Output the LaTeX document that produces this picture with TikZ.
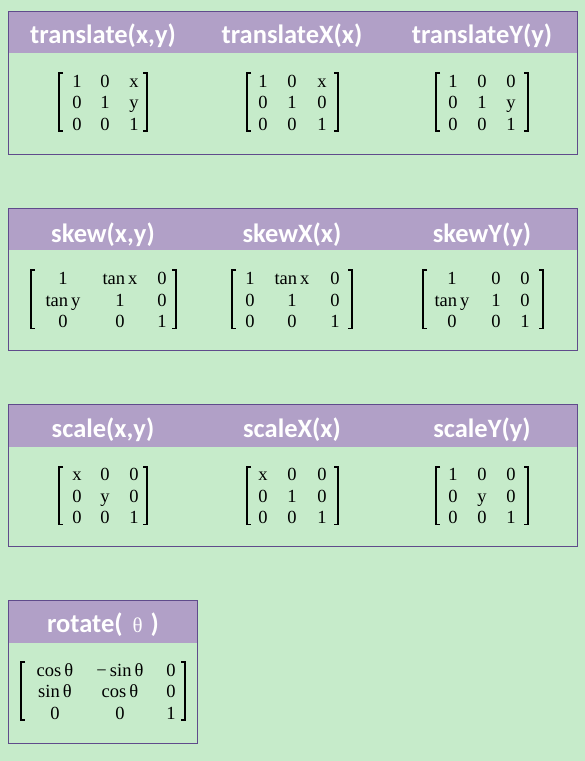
\documentclass[tikz,border=0pt]{standalone}
\usepackage{fontspec}
\setmainfont{Liberation Serif}
\newfontfamily\titlefont{Carlito}
\newfontfamily\thetafont{Liberation Serif}
\definecolor{bg}{HTML}{C6EBCA}
\definecolor{hdr}{HTML}{B1A0C7}
\definecolor{brd}{HTML}{5F4B8B}
\tikzset{
  boxframe/.style={draw=brd, line width=1pt},
  hdrfill/.style={fill=hdr},
  ttl/.style={font=\titlefont\fontsize{26.5}{30}\selectfont\bfseries, text=white, anchor=base, inner sep=0pt},
  ent/.style={font=\fontsize{18.5}{22}\selectfont, anchor=base, inner sep=0pt, text=black},
  brk/.style={draw=black, line width=1.5pt},
}
\newcommand\brkpair[4]{%
  \draw[brk] (#1+4,#3) -- (#1,#3) -- (#1,#4) -- (#1+4,#4);
  \draw[brk] (#2-4,#3) -- (#2,#3) -- (#2,#4) -- (#2-4,#4);}
\newcommand\mat[2]{%
  \foreach \x/\y/\t [count=\i] in {#2} \node[ent] (#1-\i) at (\x,\y) {\t};}
\newcommand\tbox[4]{% x1, y1, x2, y2 ; header height 42
  \fill[hdrfill] (#1,#2) rectangle (#3,#2+42);
  \draw[boxframe] (#1,#2) rectangle (#3,#4);}
\begin{document}
\begin{tikzpicture}[x=1pt,y=-1pt]
\fill[bg] (0,0) rectangle (585,761);
\useasboundingbox (0,0) rectangle (585,761);
% boxes
\tbox{8}{11}{577}{154}
\tbox{8}{208}{577}{350}
\tbox{8}{404.5}{577}{546}
\tbox{8}{600.5}{197}{743}
% row 1 titles
\node[ttl] (t1) at (103,43) {translate(x,y)};
\node[ttl] (t2) at (292,43) {translateX(x)};
\node[ttl] (t3) at (482,43) {translateY(y)};
\mat{ma}{77/87/1, 105/87/0, 134/87/x, 77/108.5/0, 105/108.5/1, 134/108.5/y, 77/130/0, 105/130/0, 134/130/1}
\brkpair{59}{147}{73}{131}
\mat{mb}{263/87/1, 292/87/0, 322/87/x, 263/108.5/0, 292/108.5/1, 322/108.5/0, 263/130/0, 292/130/0, 322/130/1}
\brkpair{247}{338}{73}{131}
\mat{mc}{453/87/1, 482/87/0, 511/87/0, 453/108.5/0, 482/108.5/1, 511/108.5/y, 453/130/0, 482/130/0, 511/130/1}
\brkpair{436}{528}{73}{131}
% row 2
\node[ttl] (t4) at (103,242) {skew(x,y)};
\node[ttl] (t5) at (292,242) {skewX(x)};
\node[ttl] (t6) at (482,242) {skewY(y)};
\mat{md}{63/284/1, 120/284/tan\,x, 162/284/0, 63/306/tan\,y, 120/306/1, 162/306/0, 63/327.5/0, 120/327.5/0, 162/327.5/1}
\brkpair{31}{176}{270}{328.5}
\mat{me}{250/284/1, 292/284/tan\,x, 335/284/0, 250/306/0, 292/306/1, 335/306/0, 250/327.5/0, 292/327.5/0, 335/327.5/1}
\brkpair{232}{352}{270}{328.5}
\mat{mf}{452/284/1, 496/284/0, 525/284/0, 452/306/tan\,y, 496/306/1, 525/306/0, 452/327.5/0, 496/327.5/0, 525/327.5/1}
\brkpair{423}{543}{270}{328.5}
% row 3
\node[ttl] (t7) at (103,437) {scale(x,y)};
\node[ttl] (t8) at (292,437) {scaleX(x)};
\node[ttl] (t9) at (482,437) {scaleY(y)};
\mat{mg}{77/480/x, 105/480/0, 134/480/0, 77/502/0, 105/502/y, 134/502/0, 77/523.5/0, 105/523.5/0, 134/523.5/1}
\brkpair{59}{147}{467}{524.5}
\mat{mh}{263/480/x, 292/480/0, 322/480/0, 263/502/0, 292/502/1, 322/502/0, 263/523.5/0, 292/523.5/0, 322/523.5/1}
\brkpair{247}{338}{467}{524.5}
\mat{mi}{453/480/1, 482/480/0, 511/480/0, 453/502/0, 482/502/y, 511/502/0, 453/523.5/0, 482/523.5/0, 511/523.5/1}
\brkpair{436}{528}{467}{524.5}
% row 4
\node[ttl] (t10) at (103,632) {rotate(\hspace{10pt}{\thetafont\mdseries\fontsize{21}{24}\selectfont θ}\hspace{8pt})};
\mat{mj}{55/676/cos\,θ, 120/676/−\,sin\,θ, 171/676/0, 55/697.5/sin\,θ, 120/697.5/cos\,θ, 171/697.5/0, 55/719/0, 120/719/0, 171/719/1}
\brkpair{21}{185}{662}{720}
\end{tikzpicture}
\end{document}
